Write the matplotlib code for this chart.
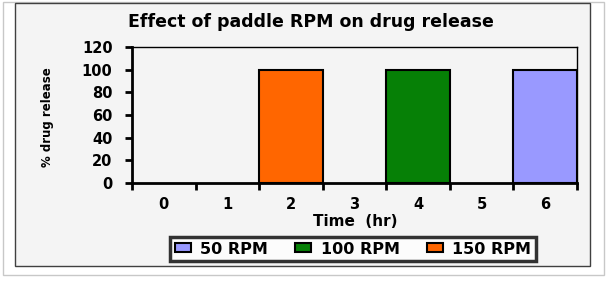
import matplotlib
matplotlib.use("Agg")
import matplotlib.pyplot as plt
from matplotlib.patches import Rectangle
import numpy as np

plt.rcParams["font.family"] = ["DejaVu Sans"]
plt.rcParams["font.weight"] = "bold"

time_hr = [0, 1, 2, 3, 4, 5, 6]
rpm_50 = [0, 0, 0, 0, 0, 0, 100]
rpm_100 = [0, 0, 0, 0, 100, 0, 0]
rpm_150 = [0, 0, 100, 0, 0, 0, 0]
series_labels = ["50 RPM", "100 RPM", "150 RPM"]
series_colors = ["#9999FF", "#068006", "#FF6600"]
y_ticks = [0, 20, 40, 60, 80, 100, 120]

W, H = 610, 284
fig = plt.figure(figsize=(6.1, 2.84), dpi=100)
fig.patch.set_facecolor("white")

# outer shadow frame and chart area
fig.patches.append(Rectangle((3 / W, 1 - 275 / H), 601 / W, 273 / H,
                             transform=fig.transFigure, facecolor="white",
                             edgecolor="#c8c8c8", linewidth=1.0, zorder=-2))
fig.patches.append(Rectangle((15 / W, 1 - 266 / H), 575 / W, 263 / H,
                             transform=fig.transFigure, facecolor="#f4f4f4",
                             edgecolor="#404040", linewidth=1.0, zorder=-1))

ax = fig.add_axes([132 / W, 1 - 183 / H, 445 / W, 136 / H])
ax.set_zorder(2)
ax.set_facecolor("#f4f4f4")

x = np.arange(len(time_hr))
for vals, lab, col in zip([rpm_50, rpm_100, rpm_150], series_labels, series_colors):
    heights = np.array(vals, dtype=float)
    mask = heights > 0
    ax.bar(x[mask], heights[mask], width=1.0, color=col, edgecolor="black",
           linewidth=1.5, label=lab, zorder=2)

ax.set_xlim(-0.5, len(time_hr) - 0.5)
ax.set_ylim(0, 120)
ax.set_yticks(y_ticks)
ax.set_yticklabels([str(v) for v in y_ticks], fontsize=10.5, fontweight="bold")
ax.set_xticks(np.arange(-0.5, len(time_hr), 1.0))
ax.set_xticklabels([])
ax.set_xticks(x, minor=True)
ax.set_xticklabels([str(t) for t in time_hr], minor=True, fontsize=10.5,
                   fontweight="bold")
ax.tick_params(axis="x", which="minor", length=0, pad=10)
ax.tick_params(axis="x", which="major", length=5, width=2, direction="out")
ax.tick_params(axis="y", length=5, width=2, direction="out", pad=9)

for s in ["left", "bottom"]:
    ax.spines[s].set_linewidth(2)
for s in ["top", "right"]:
    ax.spines[s].set_linewidth(1)

fig.text(311 / W, 1 - 22 / H, "Effect of paddle RPM on drug release",
         ha="center", va="center", fontsize=12.5, fontweight="bold")
fig.text(355 / W, 1 - 221 / H, "Time  (hr)", ha="center", va="center",
         fontsize=11, fontweight="bold")
fig.text(47 / W, 1 - 117 / H, "% drug release", ha="center", va="center",
         rotation=90, fontsize=8.5, fontweight="bold")

leg = fig.legend(loc="center", bbox_to_anchor=(353 / W, 1 - 249 / H), ncol=3,
                 frameon=True, fancybox=False, edgecolor="black",
                 prop={"size": 11.5, "weight": "bold"}, handlelength=1.0,
                 handleheight=0.5, handletextpad=0.6, columnspacing=1.7,
                 borderpad=0.3, borderaxespad=0)
leg.get_frame().set_linewidth(2.5)
leg.get_frame().set_facecolor("white")

fig.savefig("out.png", dpi=100)
